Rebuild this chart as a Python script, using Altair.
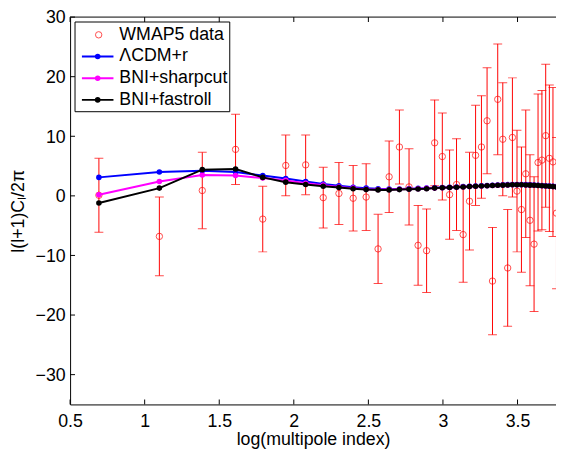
import numpy as np
import pandas as pd
import altair as alt

# ---------------- data ----------------
model_l = list(range(2, 45))
lcdm_r = [3.1, 4.0, 4.2, 4.0, 3.4, 2.9, 2.4, 2.0, 1.7, 1.45, 1.3, 1.2, 1.15, 1.15, 1.2,
          1.25, 1.3, 1.35, 1.4, 1.45, 1.5, 1.55, 1.6, 1.65, 1.7, 1.75, 1.78, 1.82, 1.85,
          1.88, 1.9, 1.9, 1.9, 1.88, 1.85, 1.82, 1.78, 1.74, 1.7, 1.65, 1.6, 1.55, 1.5]
bni_sharpcut = [0.2, 2.4, 3.5, 3.4, 3.0, 2.6, 2.1, 1.8, 1.5, 1.3, 1.1, 1.05, 1.05, 1.1, 1.15,
                1.2, 1.25, 1.3, 1.35, 1.4, 1.45, 1.5, 1.55, 1.6, 1.65, 1.7, 1.73, 1.77, 1.8,
                1.83, 1.85, 1.85, 1.85, 1.83, 1.8, 1.77, 1.73, 1.69, 1.65, 1.6, 1.55, 1.5, 1.45]
bni_fastroll = [-1.2, 1.3, 4.4, 4.5, 3.1, 2.3, 1.9, 1.6, 1.4, 1.2, 1.05, 1.0, 1.0, 1.05, 1.1,
                1.15, 1.2, 1.3, 1.35, 1.4, 1.45, 1.5, 1.55, 1.6, 1.65, 1.7, 1.73, 1.77, 1.8,
                1.83, 1.85, 1.85, 1.85, 1.83, 1.8, 1.77, 1.73, 1.69, 1.65, 1.6, 1.55, 1.5, 1.45]

wmap_l = list(range(2, 44))
wmap_val = [0.1, -6.8, 0.9, 7.8, -3.9, 5.1, 5.2, -0.3, 0.4, -0.4, -0.2, -8.9, 3.2, 8.2, 1.5,
            -8.3, -9.2, 8.9, 6.6, 0.2, 1.9, -6.5, -0.9, 6.8, 8.2, 12.6, -14.3, 16.2, 9.5,
            -12.1, 9.8, 0.8, -2.3, 3.7, -4.1, -8.1, 5.6, 6.0, 10.1, 6.3, 5.7, -2.9]
wmap_err = [6.2, 6.6, 6.4, 5.9, 5.5, 5.1, 5.0, 5.1, 5.2, 5.5, 5.6, 5.8, 6.0, 6.2, 6.4,
            6.7, 7.0, 7.2, 7.3, 7.5, 7.7, 8.0, 8.2, 8.4, 8.6, 8.9, 9.0, 9.3, 9.5,
            9.8, 10.0, 10.2, 10.5, 10.7, 11.0, 11.3, 11.5, 11.7, 12.0, 12.3, 12.5, 12.7]

series_names = ["WMAP5 data", "ΛCDM+r", "BNI+sharpcut", "BNI+fastroll"]
series_colors = ["#ff0000", "#0000ff", "#ff00ff", "#000000"]

x_ticks = [0.5, 1, 1.5, 2, 2.5, 3, 3.5]
y_ticks = [-30, -20, -10, 0, 10, 20, 30]

# ---------------- layout ----------------
W, H = 493, 393
XDOM = [0.5, 3.758]
YDOM = [-35, 30]
FONT = "Liberation Sans"
FS = 18

xs = alt.Scale(domain=XDOM, nice=False, zero=False)
ys = alt.Scale(domain=YDOM, nice=False, zero=False)

xaxis = alt.Axis(values=x_ticks, format="~g", title="log(multipole index)", ticks=False,
                 grid=False, labelPadding=8, titlePadding=1, domainColor="black",
                 domainWidth=1, labelFont=FONT, titleFont=FONT, labelFontSize=FS,
                 titleFontSize=FS, titleFontWeight="normal", labelColor="black",
                 titleColor="black", labelFlush=False, labelOverlap=False)
yaxis = alt.Axis(values=y_ticks, format="d", title="l(l+1)Cₗ/2π", ticks=False,
                 grid=False, labelPadding=5, titlePadding=8, labelOffset=1,
                 domainColor="black", domainWidth=1, labelFont=FONT, titleFont=FONT,
                 labelFontSize=FS, titleFontSize=FS, titleFontWeight="normal",
                 labelColor="black", titleColor="black", labelFlush=False,
                 labelOverlap=False)

wm = pd.DataFrame({
    "x": np.log(wmap_l),
    "y": wmap_val,
    "lo": np.array(wmap_val) - np.array(wmap_err),
    "hi": np.array(wmap_val) + np.array(wmap_err),
})
md = pd.DataFrame({"x": np.log(model_l), "lcdm": lcdm_r, "sharp": bni_sharpcut,
                   "fast": bni_fastroll})

X = alt.X("x:Q", scale=xs, axis=xaxis)

err = alt.Chart(wm).mark_rule(color="#ff0000", strokeWidth=1, clip=True).encode(
    x=X, y=alt.Y("lo:Q", scale=ys, axis=yaxis), y2="hi:Q")
cap_lo = alt.Chart(wm).mark_tick(color="#ff0000", orient="horizontal", size=9,
                                 thickness=1, clip=True).encode(
    x=X, y=alt.Y("lo:Q", scale=ys, axis=yaxis))
cap_hi = alt.Chart(wm).mark_tick(color="#ff0000", orient="horizontal", size=9,
                                 thickness=1, clip=True).encode(
    x=X, y=alt.Y("hi:Q", scale=ys, axis=yaxis))
pts = alt.Chart(wm).mark_point(shape="circle", filled=False, color="#ff0000", size=42,
                               strokeWidth=1, clip=True).encode(
    x=X, y=alt.Y("y:Q", scale=ys, axis=yaxis))

layers = [err, cap_lo, cap_hi, pts]
for col, c in zip(["lcdm", "sharp", "fast"], series_colors[1:]):
    layers.append(alt.Chart(md).mark_line(color=c, strokeWidth=2, clip=True).encode(
        x=X, y=alt.Y(f"{col}:Q", scale=ys, axis=yaxis)))
    layers.append(alt.Chart(md).mark_circle(color=c, size=32, opacity=1, clip=True).encode(
        x=X, y=alt.Y(f"{col}:Q", scale=ys, axis=yaxis)))

# inward ticks (MATLAB style) and top border
xt = pd.DataFrame({"t": x_ticks})
yt = pd.DataFrame({"t": y_ticks})
one = pd.DataFrame({"a": [0]})
layers.append(alt.Chart(xt).mark_rule(color="black", strokeWidth=1).encode(
    x=alt.X("t:Q", scale=xs, axis=xaxis), y=alt.value(H), y2=alt.value(H - 5)))
layers.append(alt.Chart(xt).mark_rule(color="black", strokeWidth=1).encode(
    x=alt.X("t:Q", scale=xs, axis=xaxis), y=alt.value(0), y2=alt.value(5)))
layers.append(alt.Chart(yt).mark_rule(color="black", strokeWidth=1).encode(
    y=alt.Y("t:Q", scale=ys, axis=yaxis), x=alt.value(0), x2=alt.value(5)))
layers.append(alt.Chart(one).mark_rule(color="black", strokeWidth=1).encode(
    x=alt.value(0), x2=alt.value(W), y=alt.value(0)))

# legend
layers.append(alt.Chart(one).mark_rect(fill="white", stroke="black", strokeWidth=1).encode(
    x=alt.value(5), x2=alt.value(162), y=alt.value(5), y2=alt.value(96)))
row0, dy = 18, 22
for i, (name, c) in enumerate(zip(series_names, series_colors)):
    ry = row0 + dy * i
    d = pd.DataFrame({"label": [name]})
    if i == 0:
        layers.append(alt.Chart(d).mark_point(shape="circle", filled=False, color=c,
                                              size=42, strokeWidth=1).encode(
            x=alt.value(29), y=alt.value(ry)))
    else:
        layers.append(alt.Chart(d).mark_rule(color=c, strokeWidth=2).encode(
            x=alt.value(12), x2=alt.value(44), y=alt.value(ry)))
        layers.append(alt.Chart(d).mark_circle(color=c, size=32, opacity=1).encode(
            x=alt.value(28), y=alt.value(ry)))
    layers.append(alt.Chart(d).mark_text(align="left", baseline="middle", font=FONT,
                                         fontSize=FS, color="black").encode(
        x=alt.value(50), y=alt.value(ry), text="label:N"))

chart = alt.layer(*layers).properties(
    width=W, height=H,
    padding={"left": 63, "top": 6, "right": 0, "bottom": 42},
    autosize=alt.AutoSizeParams(type="none"),
    background="white",
).configure_view(stroke="transparent")

chart.save("out.html", embed_options={"renderer": "svg", "actions": False})
